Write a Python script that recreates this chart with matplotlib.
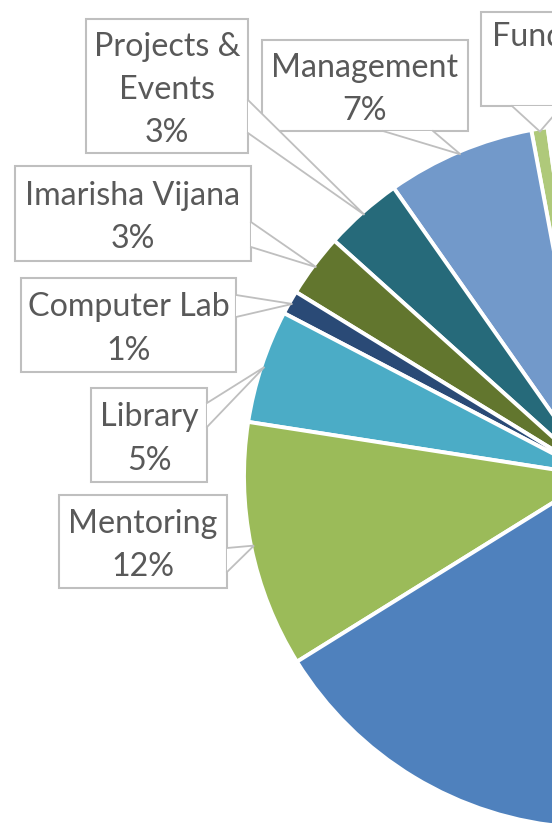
import matplotlib
matplotlib.use("Agg")
import matplotlib.pyplot as plt
import numpy as np

# slice data, counter-clockwise from the top edge of "Fundraising"
names = ['Fundraising', 'Management', 'Projects &\nEvents', 'Imarisha Vijana',
         'Computer Lab', 'Library', 'Mentoring', 'Other programmes', 'Remaining']
values = [0.75, 6.8, 3.6, 2.9, 1.1, 5.2, 11.3, 30.0, 38.35]
pct_text = ['1%', '7%', '3%', '3%', '1%', '5%', '12%', '', '']
colors = ['#AFC97A', '#7299CA', '#266A7A', '#62762E', '#2A4A76',
          '#4BACC6', '#9BBB59', '#4F81BD', '#FFFFFF']

# callout layout in pixels from top-left: box (l, t, r, b) and pointer base
boxes = [(481, 12, 640, 106), (262, 40, 468, 131), (86, 19, 248, 153),
         (15, 166, 251, 261), (21, 278, 236, 372), (91, 388, 207, 482),
         (59, 495, 227, 588), None, None]
bases = [((512, 106), (562, 106)), ((383, 131), (433, 131)),
         ((248, 100), (248, 133)), ((251, 222), (251, 247)),
         ((236, 295), (236, 317)), ((207, 403), (207, 427)),
         ((227, 548), (227, 572)), None, None]

W, H = 552, 823
cx, cy, R = 596, H - 476, 352
grey = '#BFBFBF'

fig = plt.figure(figsize=(W / 100, H / 100), dpi=100)
ax = fig.add_axes([0, 0, 1, 1])

wedges, _ = ax.pie(values, colors=colors, startangle=97.9, counterclock=True,
                   center=(cx, cy), radius=R,
                   wedgeprops=dict(edgecolor='white', linewidth=2.8))
ax.set_xlim(0, W)
ax.set_ylim(0, H)
ax.set_aspect('equal')
ax.axis('off')

for w, name, pct, box, base in zip(wedges, names, pct_text, boxes, bases):
    if box is None:
        continue
    a = np.deg2rad((w.theta1 + w.theta2) / 2)
    tip = (cx + (R - 3) * np.cos(a), cy + (R - 3) * np.sin(a))
    l, t, r, b = box
    ax.add_patch(plt.Rectangle((l, H - b), r - l, b - t, fc='white', ec=grey,
                               lw=1.5, zorder=3))
    p1 = (base[0][0], H - base[0][1])
    p2 = (base[1][0], H - base[1][1])
    ax.add_patch(plt.Polygon([p1, tip, p2], closed=True, fc='white', ec='none',
                             lw=0, zorder=4))
    ax.plot([p1[0], tip[0], p2[0]], [p1[1], tip[1], p2[1]], color=grey,
            lw=1.3, zorder=4, solid_joinstyle='miter')
    if name == 'Fundraising':
        tx, ha, ty = 492, 'left', (t + b) / 2
    else:
        tx, ha, ty = (l + r) / 2, 'center', (t + b) / 2 + 4
    ax.text(tx, H - ty, name + '\n' + pct, ha=ha, va='center',
            multialignment='center', fontsize=23.2, color='#595959',
            family='Lato', linespacing=1.56, zorder=5)

fig.savefig('out.png', dpi=100)
